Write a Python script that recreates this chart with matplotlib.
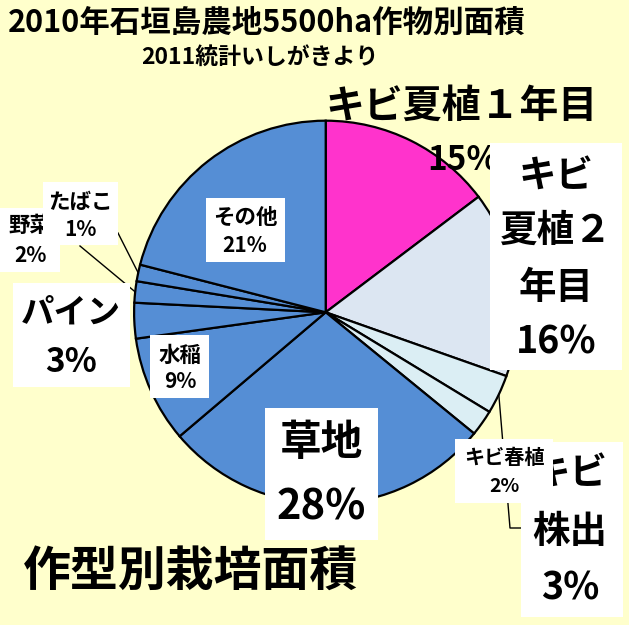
import numpy as np
import matplotlib
matplotlib.use("Agg")
import matplotlib.pyplot as plt
from matplotlib.patches import Rectangle

plt.rcParams['font.family'] = ['Noto Sans CJK JP', 'DejaVu Sans']

W, H = 629, 625

# crop shares (%), clockwise from 12 o'clock
crops = ['キビ夏植１年目', 'キビ夏植２年目', 'キビ株出', 'キビ春植', '草地',
         '水稲', 'パイン', '野菜', 'たばこ', 'その他']
areas = [14.7, 15.7, 3.3, 2.2, 27.9, 9.0, 3.0, 1.8, 1.4, 21.0]
colors = ['#FF33CC', '#DCE6F2', '#DBEEF4', '#DBEEF4', '#558ED5',
          '#558ED5', '#558ED5', '#558ED5', '#558ED5', '#558ED5']

title = '2010年石垣島農地5500ha作物別面積'
subtitle = '2011統計いしがきより'
footer = '作型別栽培面積'


def Y(y):
    return H - y


fig = plt.figure(figsize=(W / 100, H / 100), dpi=100)
fig.patch.set_facecolor('#FFFFCC')
ax = fig.add_axes([0, 0, 1, 1])
ax.set_facecolor('#FFFFCC')

cx, cy, r = 325.7, Y(312.3), 191.6
wedges, _ = ax.pie(areas, colors=colors, startangle=90, counterclock=False,
                   center=(cx, cy), radius=r, frame=True,
                   wedgeprops=dict(edgecolor='black', linewidth=1.6))
ax.set_xlim(0, W)
ax.set_ylim(0, H)
ax.set_aspect('equal')
ax.axis('off')


def edge(i, k=1.0):
    w = wedges[i]
    a = np.deg2rad((w.theta1 + w.theta2) / 2)
    return cx + k * r * np.cos(a), cy + k * r * np.sin(a)


def pct(i):
    return f'{areas[i]:.0f}%'


def box(x0, y0, x1, y1, z):
    ax.add_patch(Rectangle((x0, Y(y1)), x1 - x0, y1 - y0, fc='white',
                           ec='none', zorder=z))


def txt(x, y, s, fs, z, ha='center'):
    ax.text(x, Y(y), s, fontsize=fs, fontweight='bold', ha=ha, va='center',
            zorder=z, color='black')


# leader lines
ex, ey = edge(8)
ax.plot([118, ex], [Y(233), ey], color='black', lw=1, zorder=2)
ex, ey = edge(7)
ax.plot([80, ex], [Y(246), ey], color='black', lw=1, zorder=2)
ex, ey = edge(2)
ax.plot([ex, 510, 521], [ey, Y(528), Y(528)], color='black', lw=1, zorder=2)

# titles
txt(8, 23, title, 22, 5, ha='left')
txt(260, 57, subtitle, 16.5, 5)
txt(23, 571, footer, 34.5, 5, ha='left')

# キビ夏植1年目
txt(325, 106, crops[0], 28, 5, ha='left')
txt(463, 160, pct(0), 24, 5)

# キビ夏植2年目
box(490, 143, 622, 370, 6)
for yy, s in zip([176, 230, 287, 342], ['キビ', '夏植２', '年目', pct(1)]):
    txt(556, yy, s, 27, 7)

# キビ株出
box(521, 442, 623, 617, 6)
for yy, s in zip([473, 532, 588], ['キビ', '株出', pct(2)]):
    txt(570, yy, s, 27, 7)

# キビ春植
box(455, 439, 553, 503, 8)
txt(504, 458, crops[3], 14.5, 9)
txt(504, 487, pct(3), 14, 9)

# 草地
box(265, 408, 378, 540, 6)
txt(321, 443, crops[4], 30, 7)
txt(321, 507, pct(4), 30, 7)

# 水稲
box(150, 335, 209, 398, 6)
txt(180, 355, crops[5], 15.5, 7)
txt(180, 382, pct(5), 15, 7)

# パイン
box(13, 283, 130, 387, 6)
txt(71, 313, crops[6], 24, 7)
txt(71, 362, pct(6), 24, 7)

# 野菜
box(0, 208, 60, 272, 6)
txt(30, 225, crops[7], 15.5, 7)
txt(30, 256, pct(7), 15, 7)

# たばこ
box(43, 182, 118, 245, 8)
txt(80, 202, crops[8], 15.5, 9)
txt(80, 230, pct(8), 15, 9)

# その他
box(206, 198, 285, 262, 6)
txt(245, 217, crops[9], 15.5, 7)
txt(245, 245, pct(9), 15, 7)

fig.savefig('out.png', dpi=100, facecolor=fig.get_facecolor())
